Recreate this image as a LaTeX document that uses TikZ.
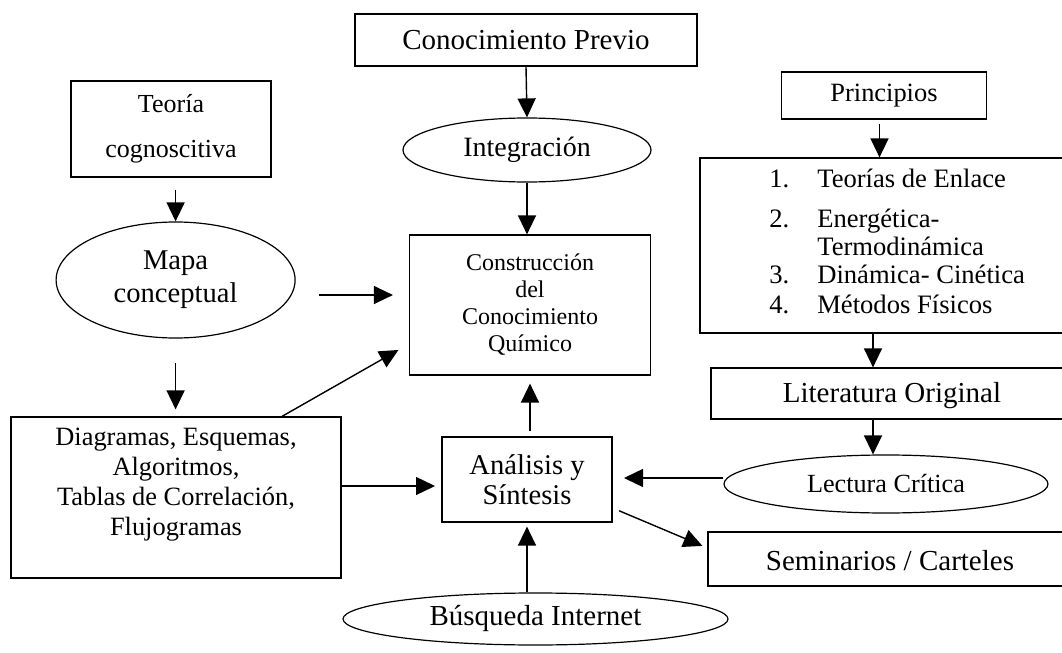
\documentclass[tikz,border=0pt]{standalone}
\usepackage{fontspec}
\setmainfont{Liberation Serif}
\usetikzlibrary{shapes.geometric,arrows.meta,calc}

\begin{document}
\begin{tikzpicture}[x=0.5pt,y=-0.5pt,
  box/.style={draw, rectangle, line width=0.6pt, inner sep=0pt, align=center},
  oval/.style={draw, ellipse, line width=0.6pt, inner sep=0pt, align=center},
  arr/.style={-{Triangle[length=9.5pt,width=9pt]}, line width=0.7pt},
  fbig/.style={font=\fontsize{14.5pt}{17pt}\selectfont},
  fmid/.style={font=\fontsize{13.2pt}{15pt}\selectfont}]
\useasboundingbox (0,0) rectangle (1062,653);
\clip (0,0) rectangle (1062,653);

%middle column
\node[box, fbig, minimum width=171pt, minimum height=26pt] (prev) at (526,40) {Conocimiento Previo};
\node[oval, font=\fontsize{14pt}{17pt}\selectfont, minimum width=124pt, minimum height=32pt] (integ) at (527,150) {Integración};
\node[box, font=\fontsize{12pt}{13.5pt}\selectfont, minimum width=120.5pt, minimum height=70pt] (constr) at (530,305) {Construcción\\del\\Conocimiento\\Químico};
\node[box, font=\fontsize{14.3pt}{15pt}\selectfont, minimum width=85pt, minimum height=42.5pt] (anal) at (527,479.5) {Análisis y\\Síntesis};
\node[oval, fbig, minimum width=192.5pt, minimum height=26pt] (busq) at (535.5,619) {Búsqueda Internet};

%left column
\node[box, font=\fontsize{13pt}{22.5pt}\selectfont, minimum width=100pt, minimum height=48pt] (teoria) at (171,129) {Teoría\\cognoscitiva};
\node[oval, font=\fontsize{14.3pt}{16.5pt}\selectfont, minimum width=119.5pt, minimum height=58pt] (mapa) at (175.6,280) {Mapa\\conceptual};
\node[box, fmid, minimum width=165pt, minimum height=80.5pt] (diag) at (176,497.5) {Diagramas, Esquemas,\\Algoritmos,\\Tablas de Correlación,\\Flujogramas\\[1pt]};

%right column (boxes run past the edge)
\node[box, fmid, minimum width=102.5pt, minimum height=23.5pt] (princ) at (884,95.5) {Principios};
\node[box, minimum width=205pt, minimum height=87.5pt] (list) at (905,245.5) {};
\node[fmid, anchor=west, inner sep=0pt, font=\fontsize{13.3pt}{14pt}\selectfont] (listtext) at (769,245)
  {\begin{tabular}{@{}l@{\hspace{14pt}}l@{}}
   1. & Teorías de Enlace\\[6pt]
   2. & Energética-\\
      & Termodinámica\\
   3. & Dinámica- Cinética\\[1pt]
   4. & Métodos Físicos
   \end{tabular}};
\node[box, minimum width=199.5pt, minimum height=25.5pt] (lit) at (910.5,393.5) {};
\node[fbig] (littext) at (892,396) {Literatura Original};
\node[oval, font=\fontsize{13.1pt}{15pt}\selectfont, minimum width=162pt, minimum height=29pt] (lect) at (886,484) {Lectura Crítica};
\node[box, minimum width=201pt, minimum height=27pt] (semi) at (909,559) {};
\node[fbig] (semitext) at (890,561) {Seminarios / Carteles};

%arrows
\draw[arr] (prev.south) -- (integ.north);
\draw[arr] (integ.south) -- (integ.south |- constr.north);
\draw[arr, shorten <=6pt] (mapa.north |- teoria.south) -- (mapa.north);
\draw[arr, shorten <=11.75pt, shorten >=8pt] ([yshift=-7.5pt]mapa.east) -- ([yshift=-7.5pt]mapa.east -| constr.west);
\draw[arr, shorten <=12pt, shorten >=3.5pt] (mapa.south) -- (mapa.south |- diag.north);
\draw[arr, shorten >=6pt] ([xshift=53pt]diag.north) -- ([yshift=-19.5pt]constr.west);
\draw[arr, shorten >=3.2pt] ([yshift=-3.25pt]anal.west -| diag.east) -- ([yshift=-3.25pt]anal.west);
\draw[arr, shorten <=2.5pt, shorten >=4pt] ([xshift=1.5pt]anal.north) -- ([xshift=1.5pt]anal.north |- constr.south);
\draw[arr, shorten >=2pt] (anal.south |- busq.north) -- (anal.south);
\draw[arr, shorten <=2pt] ([xshift=-2.25pt]princ.south) -- ([xshift=-2.25pt]princ.south |- list.north);
\draw[arr] ([xshift=-6.5pt]lect.north |- list.south) -- ([xshift=-6.5pt]lect.north |- lit.north);
\draw[arr] ([xshift=-6.5pt]lect.north |- lit.south) -- ([xshift=-6.5pt]lect.north);
\draw[arr, shorten >=5.7pt] ([yshift=3pt]lect.west) -- ([yshift=3pt]lect.west -| anal.east);
\draw[arr, shorten <=3.5pt, shorten >=2.7pt] ([yshift=-14.25pt]anal.east) -- ([yshift=5.5pt]semi.west);
\end{tikzpicture}
\end{document}
